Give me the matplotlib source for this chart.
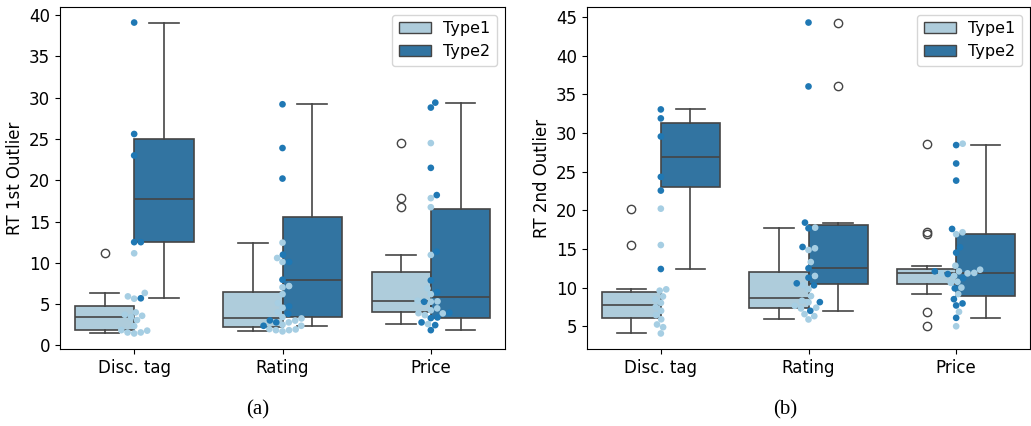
import colorsys
import numpy as np
import matplotlib
matplotlib.use('Agg')
import matplotlib.pyplot as plt
from matplotlib.patches import Patch

plt.rcParams.update({'font.size': 12})

categories = ['Disc. tag', 'Rating', 'Price']
types = ['Type1', 'Type2']

# (a) RT 1st Outlier
a_disc_t1 = [1.44, 1.56, 1.56, 1.78, 1.84, 2.33, 3.06, 3.42, 3.58, 3.7, 3.99, 5.65, 5.93, 6.35, 11.15]
a_disc_t2 = [5.7, 12.5, 12.5, 23.0, 25.6, 39.1]
a_rating_t1 = [1.69, 1.84, 1.84, 1.93, 1.97, 2.37, 2.5, 2.78, 3.0, 3.26, 3.42, 3.99, 4.55, 5.12,
               6.2, 7.03, 7.18, 10.1, 10.58, 12.44]
a_rating_t2 = [2.37, 2.78, 3.02, 3.82, 4.72, 7.95, 10.1, 10.98, 20.2, 23.9, 29.2]
a_price_t1 = [2.57, 3.66, 3.87, 3.9, 4.24, 4.48, 5.28, 5.33, 5.4, 6.2, 6.9, 10.95, 16.73, 17.83, 24.5]
a_price_t2 = [1.84, 2.45, 2.78, 3.3, 3.38, 3.95, 5.28, 6.45, 7.87, 11.35, 18.2, 21.5, 28.8, 29.4]

# (b) RT 2nd Outlier
b_disc_t1 = [4.07, 4.88, 5.23, 5.9, 6.44, 7.0, 7.5, 8.03, 8.5, 8.85, 9.6, 9.77, 15.5, 20.2]
b_disc_t2 = [12.4, 22.54, 24.31, 29.53, 31.87, 33.03]
b_rating_t1 = [5.88, 6.31, 6.57, 7.3, 7.4, 7.64, 8.1, 8.3, 8.9, 9.8, 10.32, 11.5, 13.3, 14.86, 15.08, 17.75]
b_rating_t2 = [7.0, 8.12, 10.29, 10.55, 11.27, 12.49, 15.25, 17.67, 18.4, 36.0, 44.26]
b_price_t1 = [5.0, 6.87, 9.16, 10.0, 10.6, 10.75, 11.5, 11.84, 11.84, 11.9, 12.1, 12.31, 12.83,
              16.9, 17.15, 28.6]
b_price_t2 = [6.09, 7.69, 7.95, 8.5, 9.9, 11.2, 11.75, 12.1, 14.51, 15.21, 17.58, 23.83, 26.04, 28.42]

panels = [
    ('RT 1st Outlier', '(a)', [[a_disc_t1, a_disc_t2], [a_rating_t1, a_rating_t2], [a_price_t1, a_price_t2]]),
    ('RT 2nd Outlier', '(b)', [[b_disc_t1, b_disc_t2], [b_rating_t1, b_rating_t2], [b_price_t1, b_price_t2]]),
]

point_colors = ['#a6cee3', '#1f78b4']


def desaturate(c, prop=0.75):
    r, g, b = matplotlib.colors.to_rgb(c)
    h, l, s = colorsys.rgb_to_hls(r, g, b)
    return colorsys.hls_to_rgb(h, l, s * prop)


box_colors = [desaturate(c) for c in point_colors]
line_col = '0.27'
dot_pt = 4.8


def swarm_x(ax, center, values, d):
    # simple beeswarm in pixel space, points sorted by value
    tr = ax.transData
    pts = tr.transform(np.column_stack([np.full(len(values), center), values]))
    ys = pts[:, 1]
    x0 = pts[0, 0]
    placed = []
    offs = np.zeros(len(values))
    for i in np.argsort(ys, kind='stable'):
        y = ys[i]
        cands = [0.0]
        for px, py in placed:
            dy = y - py
            if abs(dy) < d:
                dx = np.sqrt(d ** 2 - dy ** 2)
                cands += [px + dx, px - dx]
        cands.sort(key=abs)
        pick = 0.0
        for c in cands:
            if all((c - px) ** 2 + (y - py) ** 2 >= d ** 2 - 1e-6 for px, py in placed):
                pick = c
                break
        placed.append((pick, y))
        offs[i] = pick
    return tr.inverted().transform(np.column_stack([x0 + offs, ys]))[:, 0]


fig = plt.figure(figsize=(10.31, 4.26), dpi=100)
ax_rects = [[60 / 1031, 77 / 426, 445 / 1031, 342 / 426],
            [587 / 1031, 77 / 426, 443 / 1031, 342 / 426]]
cap_x = [258 / 1031, 785 / 1031]

for k, (ylabel, cap, groups) in enumerate(panels):
    ax = fig.add_axes(ax_rects[k])
    for i, pair in enumerate(groups):
        for j, vals in enumerate(pair):
            ax.boxplot([vals], positions=[i - 0.2 + 0.4 * j], widths=0.4, patch_artist=True,
                       boxprops=dict(facecolor=box_colors[j], edgecolor=line_col, linewidth=1.2),
                       whiskerprops=dict(color=line_col, linewidth=1.2),
                       capprops=dict(color=line_col, linewidth=1.2),
                       medianprops=dict(color=line_col, linewidth=1.2),
                       flierprops=dict(marker='o', markerfacecolor='none', markeredgecolor=line_col,
                                       markersize=6, markeredgewidth=1.0),
                       manage_ticks=False)
    ax.set_xlim(-0.5, 2.5)
    ax.get_ylim()
    d_px = dot_pt * fig.dpi / 72.0
    for i, pair in enumerate(groups):
        vals = np.concatenate(pair)
        cols = [point_colors[0]] * len(pair[0]) + [point_colors[1]] * len(pair[1])
        xs = swarm_x(ax, i, vals, d_px)
        ax.scatter(xs, vals, s=dot_pt ** 2, c=cols, linewidths=0, zorder=5)
    ax.set_xticks(range(len(categories)))
    ax.set_xticklabels(categories)
    ax.set_ylabel(ylabel)
    handles = [Patch(facecolor=box_colors[j], edgecolor=line_col, label=types[j]) for j in range(2)]
    ax.legend(handles=handles, loc='upper right', fontsize=11.5)
    fig.text(cap_x[k], 1 - 410 / 426, cap, ha='center', va='center',
             family='Liberation Serif', fontsize=15)

fig.savefig('out.png', dpi=100)
